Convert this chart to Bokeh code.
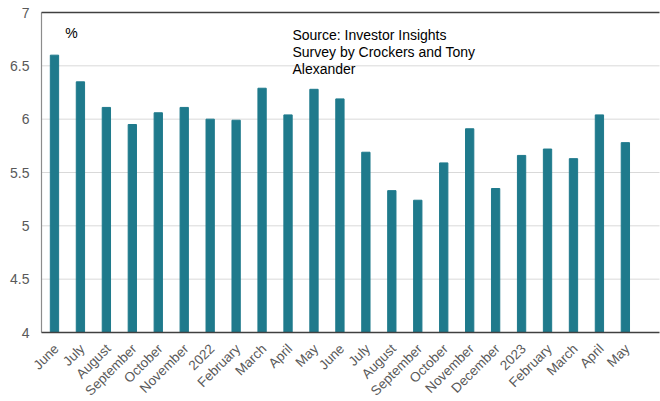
import math
from bokeh.plotting import figure
from bokeh.models import (Range1d, Label, LabelSet, ColumnDataSource)
from bokeh.core.properties import value
from bokeh.embed import file_html
from bokeh.resources import INLINE

months = ["June", "July", "August", "September", "October", "November", "2022",
          "February", "March", "April", "May", "June", "July", "August", "September",
          "October", "November", "December", "2023", "February", "March", "April", "May"]
values = [6.60, 6.35, 6.11, 5.95, 6.06, 6.11, 6.00, 5.99, 6.29, 6.04, 6.28, 6.19,
          5.69, 5.33, 5.24, 5.59, 5.91, 5.35, 5.66, 5.72, 5.63, 6.04, 5.78]
y_ticks = [4, 4.5, 5, 5.5, 6, 6.5, 7]
y_tick_labels = ["4", "4.5", "5", "5.5", "6", "6.5", "7"]
source_note = "Source: Investor Insights\nSurvey by Crockers and Tony\nAlexander"
unit_note = "%"

idx = list(range(len(months)))
Y_MIN, Y_MAX = y_ticks[0], y_ticks[-1]
X_AXIS_POS = -0.5          # left edge of first category slot (value-axis line)

FONT = "Liberation Sans"
GREY = "#595959"

# layout scales: 320px for 4..7 and ~25.95px per category slot
PX_PER_UNIT = 320 / (Y_MAX - Y_MIN)
PX_PER_SLOT = 25.95
FRAME_W, FRAME_H = 660, 401
LEFT_PAD_PX, TOP_PAD_PX, RIGHT_PAD_PX = 41, 12, 1
x_start = X_AXIS_POS - LEFT_PAD_PX / PX_PER_SLOT
x_end = x_start + FRAME_W / PX_PER_SLOT
x_line_end = x_end - RIGHT_PAD_PX / PX_PER_SLOT
y_end = Y_MAX + TOP_PAD_PX / PX_PER_UNIT
y_start = y_end - FRAME_H / PX_PER_UNIT

p = figure(frame_width=FRAME_W, frame_height=FRAME_H, output_backend="svg",
           toolbar_location=None,
           x_range=Range1d(x_start, x_end), y_range=Range1d(y_start, y_end),
           x_axis_location=None, y_axis_location=None,
           min_border_left=0, min_border_right=0, min_border_top=0, min_border_bottom=0)
p.outline_line_color = None
p.background_fill_color = "white"
p.xgrid.grid_line_color = None
p.ygrid.grid_line_color = None

# horizontal gridlines, limited to the value area
grid_y = y_ticks[1:-1]
p.segment(x0=[X_AXIS_POS] * len(grid_y), y0=grid_y, x1=[x_line_end] * len(grid_y), y1=grid_y,
          line_color="#d9d9d9", line_width=1)

p.vbar(x=idx, top=values, bottom=Y_MIN, width=0.32, color="#1f7a8c")

# axis lines
p.segment(x0=[X_AXIS_POS], y0=[Y_MIN], x1=[X_AXIS_POS], y1=[Y_MAX], line_color="#8c8c8c",
          line_width=1.2)
p.segment(x0=[X_AXIS_POS], y0=[Y_MIN], x1=[x_line_end], y1=[Y_MIN], line_color="#404040",
          line_width=1.3)
p.segment(x0=[X_AXIS_POS], y0=[Y_MAX], x1=[x_line_end], y1=[Y_MAX], line_color="#404040",
          line_width=1.3)

# y tick labels
ysrc = ColumnDataSource(data=dict(x=[X_AXIS_POS] * len(y_ticks), y=y_ticks, text=y_tick_labels))
p.add_layout(LabelSet(x="x", y="y", text="text", source=ysrc, text_align="right",
                      text_baseline="middle", x_offset=-12, text_font=value(FONT),
                      text_font_size="14px", text_color=GREY))

# category labels
lab_src = ColumnDataSource(data=dict(x=idx, y=[Y_MIN] * len(idx), text=months))
p.add_layout(LabelSet(x="x", y="y", text="text", source=lab_src,
                      angle=math.pi / 4, text_align="right", text_baseline="middle",
                      x_offset=2, y_offset=-14, text_font=value(FONT),
                      text_font_size="13.5px", text_color=GREY))

p.add_layout(Label(x=0.42, y=6.88, text=unit_note, text_font=FONT, text_font_size="14px",
                   text_color="black", text_baseline="top"))
p.add_layout(Label(x=9.17, y=6.86, text=source_note, text_font=FONT, text_font_size="14px",
                   text_color="black", text_baseline="top", text_line_height=1.04))

open("out.html", "w").write(file_html(p, INLINE))
